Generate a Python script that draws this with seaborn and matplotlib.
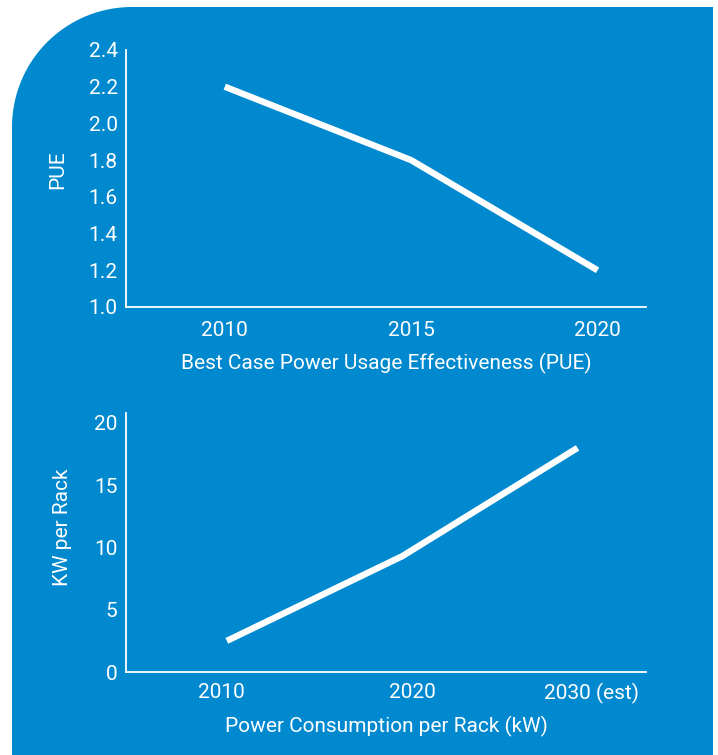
import numpy as np
import pandas as pd
import matplotlib
matplotlib.use("Agg")
import matplotlib.pyplot as plt
import matplotlib.transforms as mtransforms
from matplotlib.path import Path
from matplotlib.patches import PathPatch
import seaborn as sns

# Best case PUE by year
pue_years = ["2010", "2015", "2020"]
pue_values = [2.2, 1.8, 1.2]
pue_ticks = [1.0, 1.2, 1.4, 1.6, 1.8, 2.0, 2.2, 2.4]

# Power consumption per rack (kW)
rack_years = ["2010", "2020", "2030 (est)"]
rack_values = [2.5, 9.3, 18.0]
rack_ticks = [0, 5, 10, 15, 20]

BLUE = "#0089cf"
WHITE = "#ffffff"

sns.set_theme(style="ticks")
plt.rcParams["font.family"] = ["Roboto", "DejaVu Sans"]

W, H, DPI = 718, 755, 100
fig = plt.figure(figsize=(W / DPI, H / DPI), dpi=DPI, facecolor="white")

# blue card with a rounded top-left corner (inches)
left, right, top, bottom, r = 0.12, 7.13, 7.48, -0.2, 1.2
theta = np.linspace(np.pi, np.pi / 2, 40)
arc = np.column_stack([left + r + r * np.cos(theta), top - r + r * np.sin(theta)])
verts = np.vstack([[left, bottom], arc, [right, top], [right, bottom], [left, bottom]])
codes = [Path.MOVETO] + [Path.LINETO] * (len(verts) - 2) + [Path.CLOSEPOLY]
fig.patches.append(PathPatch(Path(verts, codes), transform=fig.dpi_scale_trans,
                             facecolor=BLUE, edgecolor="none", zorder=-10))


def style_axes(ax):
    ax.set_facecolor("none")
    for side in ("top", "right"):
        ax.spines[side].set_visible(False)
    for side in ("left", "bottom"):
        ax.spines[side].set_color(WHITE)
        ax.spines[side].set_linewidth(1.3)
    ax.tick_params(axis="both", length=0, colors=WHITE, labelsize=15)
    ax.tick_params(axis="y", pad=6)


# --- top: PUE ---
ax1 = fig.add_axes([126 / W, 1 - 307 / H, 520 / W, 257 / H])
df1 = pd.DataFrame({"year": pue_years, "pue": pue_values})
sns.lineplot(data=df1, x="year", y="pue", ax=ax1, color=WHITE, linewidth=4.6,
             sort=False)
style_axes(ax1)
ax1.set_xlim(-0.53, 2.26)
ax1.set_ylim(pue_ticks[0], pue_ticks[-1])
ax1.set_yticks(pue_ticks)
ax1.set_yticklabels([f"{v:.1f}" for v in pue_ticks])
ax1.tick_params(axis="x", pad=10)
ax1.set_xlabel("Best Case Power Usage Effectiveness (PUE)", color=WHITE, fontsize=15)
ax1.xaxis.set_label_coords(0.5, -0.218)
ax1.xaxis.label.set_va("center")
ax1.set_ylabel("PUE", color=WHITE, fontsize=15)
ax1.yaxis.set_label_coords(-0.131, 0.533)
ax1.yaxis.label.set_va("center")

# --- bottom: kW per rack ---
ax2 = fig.add_axes([126 / W, 1 - 672 / H, 520 / W, 259 / H])
df2 = pd.DataFrame({"year": rack_years, "kw": rack_values})
sns.lineplot(data=df2, x="year", y="kw", ax=ax2, color=WHITE, linewidth=4.6,
             sort=False)
style_axes(ax2)
ax2.set_xlim(-0.575, 2.39)
ax2.set_ylim(0, 20.8)
ax2.set_yticks(rack_ticks)
ax2.set_yticklabels([str(v) for v in rack_ticks])
ax2.tick_params(axis="x", pad=8)
for lbl, dx in zip(ax2.get_xticklabels(), [-5, 10, 14]):
    lbl.set_transform(lbl.get_transform() +
                      mtransforms.ScaledTranslation(dx / DPI, 0, fig.dpi_scale_trans))
ax2.set_xlabel("Power Consumption per Rack (kW)", color=WHITE, fontsize=15)
ax2.xaxis.set_label_coords(0.5, -0.212)
ax2.xaxis.label.set_va("center")
ax2.set_ylabel("KW per Rack", color=WHITE, fontsize=15)
ax2.yaxis.set_label_coords(-0.123, 0.56)
ax2.yaxis.label.set_va("center")

for ax in (ax1, ax2):
    for line in ax.get_lines():
        line.set_solid_capstyle("butt")

fig.savefig("out.png", dpi=DPI, facecolor="white")
